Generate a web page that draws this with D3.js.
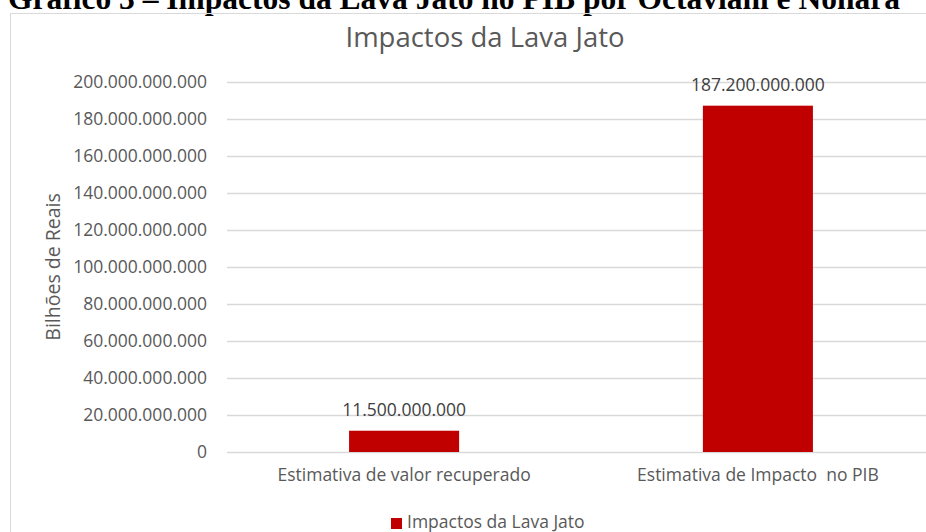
<!DOCTYPE html>
<html>
<head>
<meta charset="utf-8">
<script src="https://cdn.jsdelivr.net/npm/d3@7"></script>
<style>
  html, body { margin: 0; padding: 0; background: #fff; overflow: hidden; }
  svg { display: block; }
</style>
</head>
<body>
<svg id="chart" width="926" height="532"></svg>
<script>
// Data
const categories = ["Estimativa de valor recuperado", "Estimativa de Impacto  no PIB"];
const values = [11500000000, 187200000000];
const seriesName = "Impactos da Lava Jato";
const yTicks = [0, 20e9, 40e9, 60e9, 80e9, 100e9, 120e9, 140e9, 160e9, 180e9, 200e9];

const W = 926, H = 532;
const textColor = "#595959";
const gridColor = "#d9d9d9";
const barColor = "#c00000";
const sans = "'Open Sans', sans-serif";

const ptBR = d3.formatLocale({ decimal: ",", thousands: ".", grouping: [3], currency: ["R$", ""] });
const fmt = ptBR.format(",d");

const svg = d3.select("#chart");

// Figure caption (serif, bold) above the chart frame
svg.append("text")
  .attr("x", 8).attr("y", 9)
  .attr("font-family", "'Liberation Serif', 'Times New Roman', serif")
  .attr("font-weight", "bold")
  .attr("font-size", 31.5)
  .attr("fill", "#000")
  .text("Gráfico 3 – Impactos da Lava Jato no PIB por Octaviani e Nohara");

// Chart frame
svg.append("rect")
  .attr("x", 10.5).attr("y", 13.5)
  .attr("width", 1000).attr("height", 600)
  .attr("fill", "none")
  .attr("stroke", gridColor)
  .attr("stroke-width", 1);

// Scales
const x = d3.scaleBand()
  .domain(categories)
  .range([227, 935])
  .paddingInner(0.689)
  .paddingOuter(0.345);

const y = d3.scaleLinear()
  .domain([0, 200e9])
  .range([452, 82]);

// Gridlines
svg.append("g")
  .selectAll("line")
  .data(yTicks)
  .join("line")
  .attr("x1", 227).attr("x2", 935)
  .attr("y1", d => Math.round(y(d)) + 0.5)
  .attr("y2", d => Math.round(y(d)) + 0.5)
  .attr("stroke", gridColor)
  .attr("stroke-width", 1.5);

// Y axis tick labels
const yAxis = d3.axisLeft(y).tickValues(yTicks).tickFormat(fmt).tickSize(0).tickPadding(0);
const gy = svg.append("g").attr("transform", "translate(207,0)").call(yAxis);
gy.select(".domain").remove();
gy.selectAll("text")
  .attr("font-family", sans)
  .attr("font-size", 17.5)
  .attr("fill", textColor);

// Y axis title
svg.append("text")
  .attr("transform", "translate(60,267) rotate(-90)")
  .attr("text-anchor", "middle")
  .attr("font-family", sans)
  .attr("font-size", 19.5)
  .attr("fill", textColor)
  .text("Bilhões de Reais");

// Bars
svg.append("g")
  .selectAll("rect")
  .data(values)
  .join("rect")
  .attr("x", (d, i) => x(categories[i]))
  .attr("width", x.bandwidth())
  .attr("y", d => y(d))
  .attr("height", d => y(0) - y(d))
  .attr("fill", barColor);

// Value labels
svg.append("g")
  .selectAll("text")
  .data(values)
  .join("text")
  .attr("x", (d, i) => x(categories[i]) + x.bandwidth() / 2)
  .attr("y", d => y(d) - 15)
  .attr("text-anchor", "middle")
  .attr("font-family", sans)
  .attr("font-size", 17.5)
  .attr("fill", "#404040")
  .text(d => fmt(d));

// Category labels (keep the double space in the second label)
const xAxis = d3.axisBottom(x).tickSize(0).tickPadding(0);
const gx = svg.append("g").attr("transform", "translate(0,469)").call(xAxis);
gx.select(".domain").remove();
gx.selectAll("text")
  .attr("font-family", sans)
  .attr("font-size", 17.5)
  .attr("fill", textColor)
  .attr("dy", "0.71em")
  .style("white-space", "pre");

// Chart title
svg.append("text")
  .attr("x", 485).attr("y", 47)
  .attr("text-anchor", "middle")
  .attr("font-family", sans)
  .attr("font-size", 27.5)
  .attr("fill", textColor)
  .text(seriesName);

// Legend
const lg = svg.append("g").attr("transform", "translate(391,518)");
lg.append("rect").attr("width", 11).attr("height", 11).attr("fill", barColor);
lg.append("text")
  .attr("x", 16).attr("y", 10)
  .attr("font-family", sans)
  .attr("font-size", 17.5)
  .attr("fill", textColor)
  .text(seriesName);
</script>
</body>
</html>
